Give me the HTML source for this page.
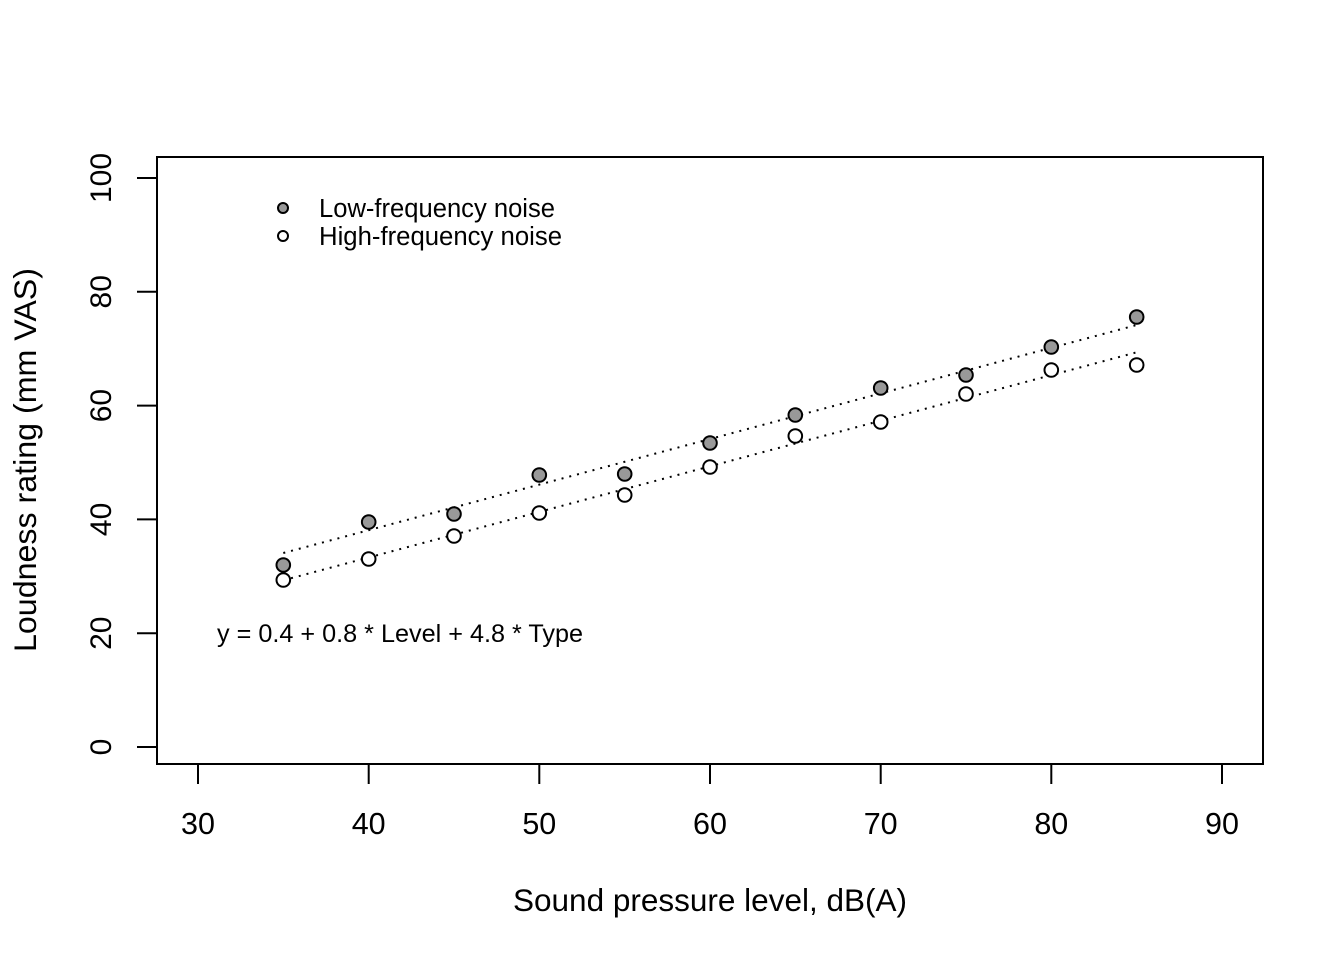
<!DOCTYPE html>
<html><head><meta charset="utf-8"><style>
html,body{margin:0;padding:0;background:#fff;}
svg{display:block;}
text{font-family:"Liberation Sans",Arial,sans-serif;fill:#000;}
</style></head><body>
<svg width="1344" height="960" viewBox="0 0 1344 960" xmlns="http://www.w3.org/2000/svg">
<rect x="0" y="0" width="1344" height="960" fill="#fff"/>
<rect x="157" y="157" width="1106" height="607" fill="none" stroke="#000" stroke-width="2"/>
<g stroke="#000" stroke-width="2">
<line x1="198" y1="764" x2="198" y2="784"/>
<line x1="368.7" y1="764" x2="368.7" y2="784"/>
<line x1="539.3" y1="764" x2="539.3" y2="784"/>
<line x1="710" y1="764" x2="710" y2="784"/>
<line x1="880.7" y1="764" x2="880.7" y2="784"/>
<line x1="1051.3" y1="764" x2="1051.3" y2="784"/>
<line x1="1222" y1="764" x2="1222" y2="784"/>
</g>
<g font-size="30.5" text-anchor="middle">
<text x="198" y="834">30</text>
<text x="368.7" y="834">40</text>
<text x="539.3" y="834">50</text>
<text x="710" y="834">60</text>
<text x="880.7" y="834">70</text>
<text x="1051.3" y="834">80</text>
<text x="1222" y="834">90</text>
</g>
<g stroke="#000" stroke-width="2">
<line x1="137" y1="747" x2="157" y2="747"/>
<line x1="137" y1="633.2" x2="157" y2="633.2"/>
<line x1="137" y1="519.4" x2="157" y2="519.4"/>
<line x1="137" y1="405.6" x2="157" y2="405.6"/>
<line x1="137" y1="291.8" x2="157" y2="291.8"/>
<line x1="137" y1="178" x2="157" y2="178"/>
</g>
<g font-size="30" text-anchor="middle">
<text transform="translate(111,747) rotate(-90)">0</text>
<text transform="translate(111,633.2) rotate(-90)">20</text>
<text transform="translate(111,519.4) rotate(-90)">40</text>
<text transform="translate(111,405.6) rotate(-90)">60</text>
<text transform="translate(111,291.8) rotate(-90)">80</text>
<text transform="translate(111,178) rotate(-90)">100</text>
</g>
<text x="513" y="911" font-size="31.5" textLength="394" lengthAdjust="spacingAndGlyphs">Sound pressure level, dB(A)</text>
<text transform="translate(36,652) rotate(-90)" font-size="31.5" textLength="384" lengthAdjust="spacingAndGlyphs">Loudness rating (mm VAS)</text>
<g stroke="#000" stroke-width="2" stroke-dasharray="2 6" fill="none">
<line x1="283.3" y1="553" x2="1136.7" y2="325"/>
<line x1="283.3" y1="580.3" x2="1136.7" y2="352.3"/>
</g>
<g fill="#999" stroke="#000" stroke-width="2">
<circle cx="283.3" cy="565" r="6.8"/>
<circle cx="368.7" cy="522" r="6.8"/>
<circle cx="454" cy="514" r="6.8"/>
<circle cx="539.3" cy="475" r="6.8"/>
<circle cx="624.7" cy="474" r="6.8"/>
<circle cx="710" cy="443" r="6.8"/>
<circle cx="795.3" cy="415" r="6.8"/>
<circle cx="880.7" cy="388" r="6.8"/>
<circle cx="966" cy="375" r="6.8"/>
<circle cx="1051.3" cy="347" r="6.8"/>
<circle cx="1136.7" cy="317" r="6.8"/>
</g>
<g fill="#fff" stroke="#000" stroke-width="2">
<circle cx="283.3" cy="580" r="6.8"/>
<circle cx="368.7" cy="559" r="6.8"/>
<circle cx="454" cy="536" r="6.8"/>
<circle cx="539.3" cy="513" r="6.8"/>
<circle cx="624.7" cy="495" r="6.8"/>
<circle cx="710" cy="467" r="6.8"/>
<circle cx="795.3" cy="436" r="6.8"/>
<circle cx="880.7" cy="422" r="6.8"/>
<circle cx="966" cy="394" r="6.8"/>
<circle cx="1051.3" cy="370" r="6.8"/>
<circle cx="1136.7" cy="365" r="6.8"/>
</g>
<circle cx="283" cy="208" r="5" fill="#999" stroke="#000" stroke-width="2"/>
<circle cx="283" cy="236" r="5" fill="#fff" stroke="#000" stroke-width="2"/>
<g font-size="25.5">
<text x="319" y="217" textLength="236" lengthAdjust="spacingAndGlyphs">Low-frequency noise</text>
<text x="319" y="245" textLength="243" lengthAdjust="spacingAndGlyphs">High-frequency noise</text>
</g>
<text x="217" y="642" font-size="25" textLength="366" lengthAdjust="spacingAndGlyphs">y = 0.4 + 0.8 * Level + 4.8 * Type</text>
</svg>
</body></html>
